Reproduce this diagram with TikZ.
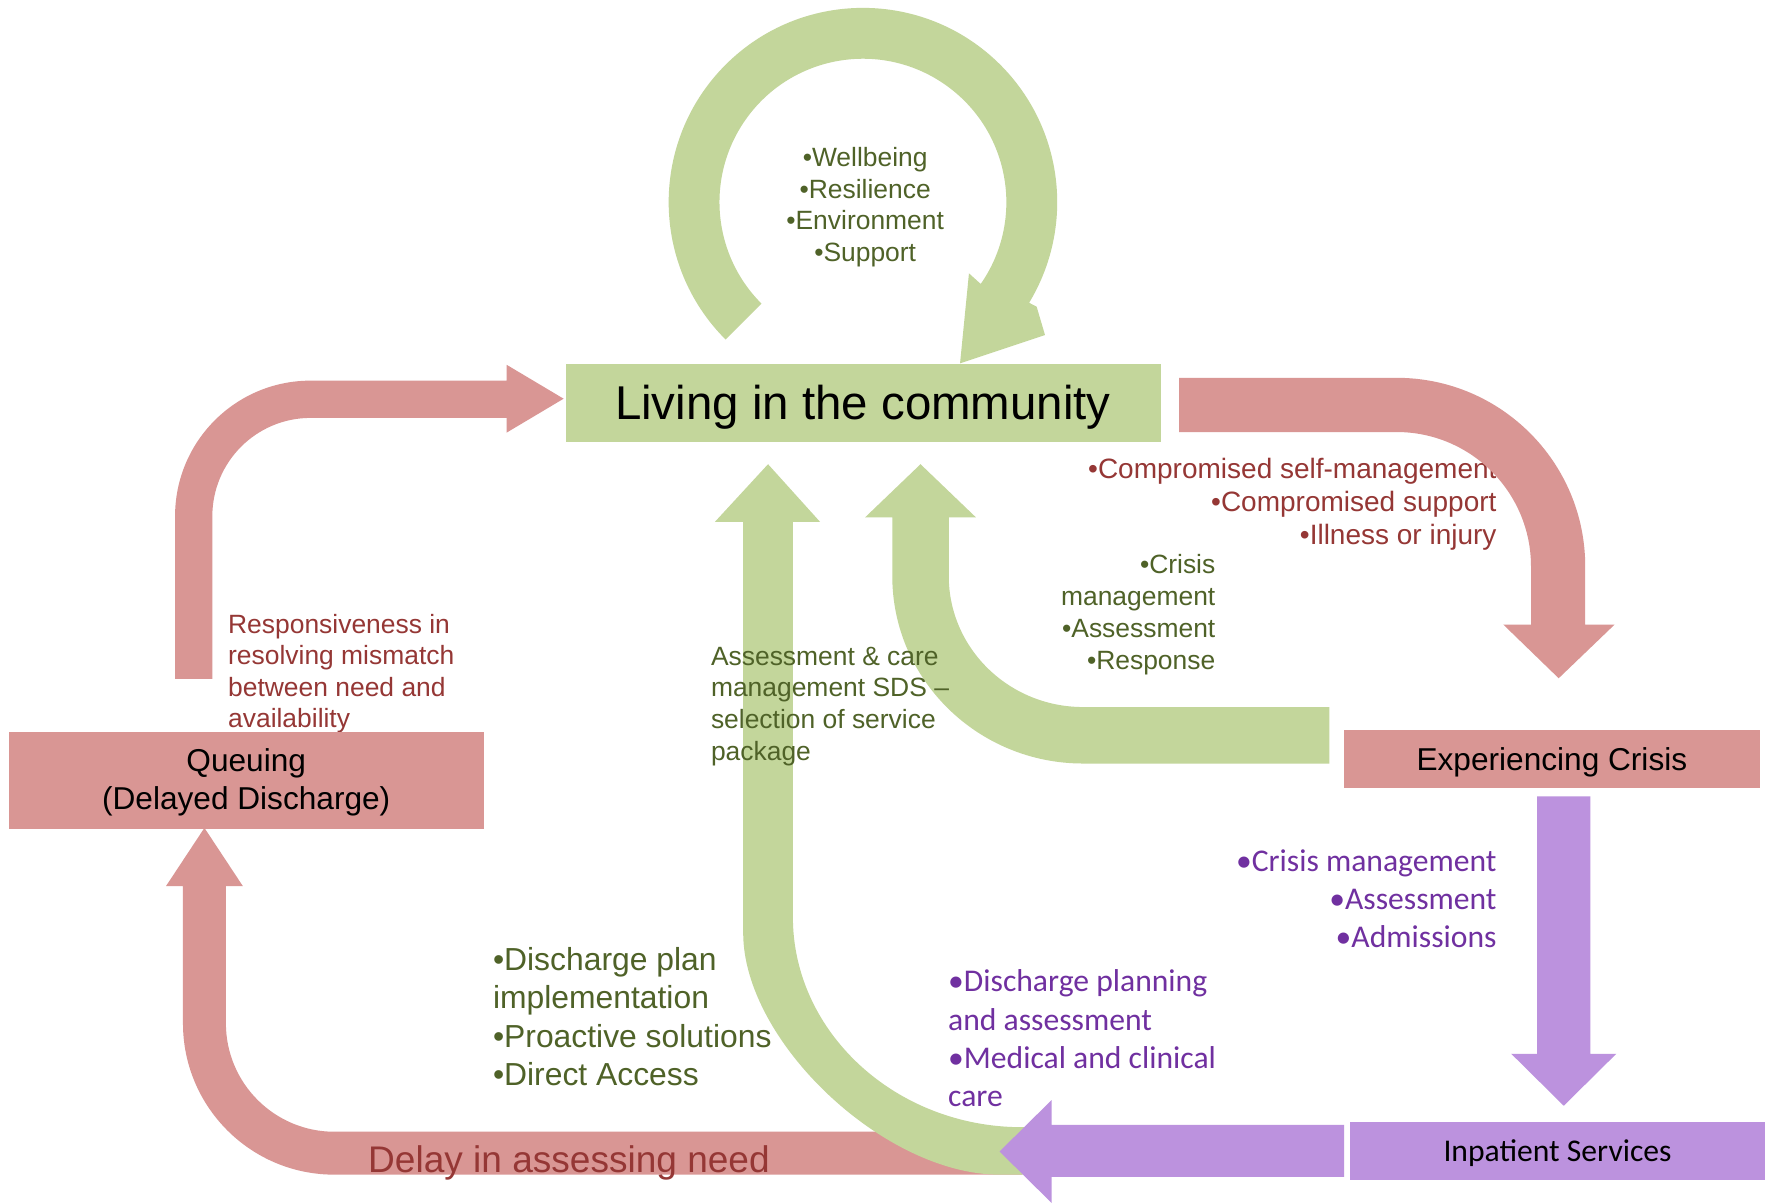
\documentclass[tikz,border=0pt]{standalone}
\usepackage{fontspec}
\setmainfont{Liberation Sans}
\newfontfamily\calib{Carlito}
\definecolor{pinkA}{RGB}{217,150,148}
\definecolor{greenA}{RGB}{195,214,155}
\definecolor{purpA}{RGB}{188,146,222}
\definecolor{dred}{RGB}{149,55,53}
\definecolor{dgreen}{RGB}{79,98,40}
\definecolor{dpurp}{RGB}{112,48,160}
\newcommand{\mlines}[2]{\begin{tabular}[t]{@{}#1@{}}#2\end{tabular}}
\tikzset{
  pinkshape/.style={fill=pinkA, draw=none},
  greenshape/.style={fill=greenA, draw=none},
  purpshape/.style={fill=purpA, draw=none},
  txt/.style={inner sep=0pt, outer sep=0pt},
}
\begin{document}
\begin{tikzpicture}[x=0.5pt,y=-0.5pt]
\useasboundingbox (0,0) rectangle (1568,1065);
\fill[white] (0,0) rectangle (1568,1065);

% ---- texts lying under shapes
\node[txt, anchor=base east, text=dred, font=\fontsize{12.4}{14.75}\selectfont] (tcomp) at (1325,423.5)
  {\mlines{r}{•Compromised self-management\\•Compromised support\\•Illness or injury}};
\node[txt, anchor=base west, text=dred, font=\fontsize{11.7}{14}\selectfont] (tresp) at (202,560.5)
  {\mlines{l}{Responsiveness in\\resolving mismatch\\between need and\\availability}};
\node[txt, anchor=base west, text=dpurp, font=\calib\fontsize{14}{17}\selectfont] (tdisch) at (839.5,878)
  {\mlines{l}{•Discharge planning\\and assessment\\•Medical and clinical\\care}};

% ---- circular arrow above "Living in the community"
\path[greenshape] (674.2,268.8) -- (642.4,300.6)
  arc[start angle=135, end angle=391.2, radius=172]
  -- (917.8,271.5) -- (925.2,296.6) -- (850,321.7) -- (857.9,242) -- (867.6,250.8)
  -- (868.4,251.3) arc[start angle=394.7, end angle=135, radius=127] -- cycle;

% ---- Living box
\path[greenshape] (501,322) rectangle (1027.5,391);
\coordinate (livingbox) at (764,356);

% ---- pink arrow Queuing -> Living
\path[pinkshape] (155,601) -- (155,457) arc[start angle=180, end angle=270, radius=120]
  -- (448.6,337) -- (448.6,323) -- (499,353) -- (448.6,383) -- (448.6,370)
  -- (275,370) arc[start angle=270, end angle=180, radius=87] -- (188,601) -- cycle;

% ---- pink arrow Living -> Experiencing Crisis
\path[pinkshape] (1044,334.5) -- (1236.5,334.5) arc[start angle=270, end angle=360, radius=167]
  -- (1403.5,553) -- (1429.5,553) -- (1380,600.5) -- (1331,553) -- (1355.5,553)
  -- (1355.5,501.5) arc[start angle=0, end angle=-90, radius=119] -- (1044,382.5) -- cycle;

% ---- green arrow Experiencing Crisis -> Living
\path[greenshape] (1177,626) -- (959,626) arc[start angle=90, end angle=180, x radius=119, y radius=116]
  -- (840,458) -- (864,458) -- (815,411) -- (766,458) -- (790,458)
  -- (790,510) arc[start angle=180, end angle=90, x radius=169, y radius=166]
  -- (1177,676) -- cycle;

% ---- pink bottom arrow -> Queuing
\path[pinkshape] (905,1002) -- (296,1002) arc[start angle=90, end angle=180, radius=96]
  -- (200,784.5) -- (215,784.5) -- (181,733) -- (147,784.5) -- (162,784.5)
  -- (162,906) arc[start angle=180, end angle=90, radius=134] -- (905,1040) -- cycle;

% ---- green long arrow bottom -> Living
\path[greenshape] (658,462) -- (633,462) -- (680,411) -- (726,462) -- (702,462)
  -- (702,812) .. controls (702,914) and (793,998) .. (905,998) -- (920,998)
  -- (920,1040) -- (885,1040) .. controls (783,1040) and (658,922) .. (658,826) -- cycle;

% ---- purple arrows
\path[purpshape] (1361,705) -- (1408,705) -- (1408,933) -- (1431,933) -- (1384.5,979)
  -- (1338,933) -- (1361,933) -- cycle;
\path[purpshape] (1190,996) -- (931,996) -- (931,974) -- (885,1019.5) -- (931,1065)
  -- (931,1042) -- (1190,1042) -- cycle;

% ---- boxes
\path[pinkshape] (8,648) rectangle (428.5,734);
\path[pinkshape] (1190,646) rectangle (1558,697.5);
\path[purpshape] (1195,993) rectangle (1563,1045);

% ---- texts on top
\node[txt, anchor=base, font=\fontsize{21}{25}\selectfont] (living) at (764,371) {Living in the community};
\node[txt, anchor=base, text=dgreen, font=\fontsize{11.7}{14}\selectfont] (twell) at (766,147.6)
  {\mlines{c}{•Wellbeing\\•Resilience\\•Environment\\•Support}};
\node[txt, anchor=base east, text=dgreen, font=\fontsize{11.7}{14.2}\selectfont] (tcrisis) at (1076,507.6)
  {\mlines{r}{•Crisis\\management\\•Assessment\\•Response}};
\node[txt, anchor=base west, text=dgreen, font=\fontsize{11.7}{14}\selectfont] (tassess) at (629.5,589)
  {\mlines{l}{Assessment \& care\\management SDS –\\selection of service\\package}};
\node[txt, anchor=base west, text=dgreen, font=\fontsize{14.1}{17}\selectfont] (tplan) at (436.5,859)
  {\mlines{l}{•Discharge plan\\implementation\\•Proactive solutions\\•Direct Access}};
\node[txt, anchor=base west, text=dred, font=\fontsize{16.4}{19}\selectfont] (tdelay) at (326,1038.5)
  {Delay in assessing need};
\node[txt, anchor=base, font=\fontsize{14}{16.75}\selectfont] (queue) at (218,683.2)
  {\mlines{c}{Queuing\\(Delayed Discharge)}};
\node[txt, anchor=base, font=\fontsize{14}{17}\selectfont] (crisis) at (1374,682)
  {Experiencing Crisis};
\node[txt, anchor=base east, text=dpurp, font=\calib\fontsize{14}{16.85}\selectfont] (tadm) at (1325,771.7)
  {\mlines{r}{•Crisis management\\•Assessment\\•Admissions}};
\node[txt, anchor=base, font=\calib\fontsize{14}{17}\selectfont] (inpat) at (1379,1028.5)
  {Inpatient Services};
\end{tikzpicture}
\end{document}
